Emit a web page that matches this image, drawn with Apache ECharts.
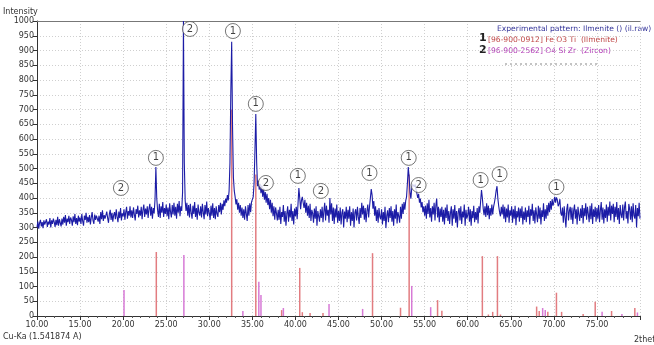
<!DOCTYPE html>
<html><head><meta charset="utf-8">
<script src="https://cdn.jsdelivr.net/npm/echarts@6/dist/echarts.min.js"></script>
<style>html,body{margin:0;padding:0;background:#fff}#c{width:654px;height:345px}</style>
</head><body><div id="c"></div>
<script>
// Experimental pattern, sampled every 0.1 deg from 10.0 to 80.0 (one line per degree)
const expStart = 10.0;
const expStep = 0.1;
const expValues = [
 300,320,296,316,326,304,318,298,324,310,
 306,328,302,320,310,332,300,324,312,330,
 318,302,326,308,336,306,328,316,304,330,
 310,336,316,342,306,330,318,340,312,334,
 326,306,338,318,346,312,332,308,340,320,
 334,312,346,322,306,340,326,350,316,336,
 318,342,310,334,352,324,312,344,326,340,
 346,320,340,312,352,328,358,322,342,330,
 324,354,332,316,346,360,326,350,320,342,
 352,328,362,336,318,354,332,366,324,348,
 338,362,326,352,370,330,356,340,372,334,
 358,332,368,344,324,362,346,374,334,358,
 340,370,328,360,378,336,364,344,372,332,
 364,380,340,370,330,366,348,395,505,400,
 358,336,380,332,372,350,386,336,366,346,
 378,338,368,328,382,352,334,376,344,384,
 340,370,330,380,350,390,338,372,356,420,
 1000,520,392,356,384,340,376,334,380,350,
 330,374,346,386,336,366,326,378,350,340,
 372,334,380,352,328,376,344,388,338,366,
 350,326,374,340,382,332,366,328,372,346,
 336,376,352,384,344,380,360,392,372,398,
 384,410,392,424,520,760,930,640,470,424,
 404,378,396,360,384,350,376,340,368,332,
 362,326,372,346,322,376,340,382,352,386,
 392,404,450,560,685,520,440,458,428,448,
 416,442,404,432,394,420,384,414,376,400,
 362,394,350,384,338,372,326,368,348,324,
 360,326,370,312,352,336,376,320,356,306,
 346,372,320,360,334,380,322,356,310,364,
 338,370,328,380,434,400,362,392,404,384,
 366,394,350,384,340,374,332,380,322,360,
 348,316,364,330,372,306,356,338,320,362,
 332,370,318,356,384,324,374,340,360,316,
 400,344,382,322,368,312,364,334,378,316,
 356,322,368,310,350,362,300,354,330,370,
 318,360,330,372,306,352,322,364,300,350,
 362,324,370,336,312,366,332,384,344,374,
 326,366,318,356,378,334,370,400,430,410,
 364,390,340,372,322,360,316,366,336,328,
 362,310,352,322,370,298,340,358,318,366,
 332,372,320,356,306,362,330,378,314,352,
 338,316,370,330,380,346,386,360,390,404,
 450,505,470,420,398,432,446,452,438,446,
 428,416,400,414,384,398,368,386,352,372,
 340,374,330,382,346,394,334,366,320,372,
 344,384,324,374,398,334,370,318,364,336,
 370,320,360,310,368,332,378,322,356,312,
 350,372,306,362,330,376,316,356,300,352,
 366,324,372,312,354,334,378,306,360,330,
 342,370,320,362,306,356,332,374,318,352,
 326,366,314,372,350,390,427,400,364,342,
 372,336,382,342,374,328,366,340,378,344,
 370,384,402,425,440,398,372,352,338,370,
 344,378,330,370,318,364,334,378,316,358,
 340,372,316,362,330,374,308,356,334,368,
 320,364,332,372,310,354,326,368,318,358,
 336,374,310,362,340,380,322,358,314,368,
 344,318,374,330,368,310,358,336,382,322,
 362,330,376,340,384,352,390,360,396,374,
 386,404,384,402,394,372,380,396,350,340,
 368,316,372,334,300,362,380,324,356,370,
 326,368,312,358,378,330,362,310,370,344,
 322,364,332,376,314,366,338,382,326,370,
 346,318,374,328,382,312,362,336,370,320,
 366,330,376,318,358,386,326,368,314,362,
 332,378,320,370,340,388,324,374,346,380,
 318,370,336,386,326,366,312,376,344,332,
 378,324,368,388,330,356,314,380,362,326,
 372,318,382,340,330,376,300,366,338,384,
 330
];

// Reference pattern 1: [96-900-0912] Fe O3 Ti (Ilmenite)
const ilmPos = [23.85, 32.6, 35.4, 38.4, 40.5, 40.8, 41.7, 43.2, 48.95, 52.2, 53.2, 56.5, 57.0, 61.7, 62.4, 62.9, 63.45, 63.8, 68.0, 68.3, 69.3, 70.3, 70.9, 73.4, 74.8, 76.7, 79.4];
const ilmInt = [217, 700, 480, 20, 163, 13, 10, 10, 213, 28, 480, 54, 18, 203, 5, 14, 203, 5, 32, 17, 14, 79, 14, 7, 48, 17, 27];
// Reference pattern 2: [96-900-2562] O4 Si Zr (Zircon)
const zirPos = [20.1, 27.05, 33.9, 35.75, 36.0, 38.6, 43.9, 47.8, 53.5, 55.7, 68.7, 69.0, 75.6, 77.9, 79.7];
const zirInt = [88, 207, 17, 116, 71, 27, 41, 24, 102, 30, 27, 20, 14, 7, 12];

// Circled peak markers
const markX = [19.74, 23.8, 27.75, 32.74, 35.4, 36.57, 40.28, 42.95, 48.6, 53.15, 54.3, 61.5, 63.7, 70.3];
const markY = [434, 536, 973, 966, 719, 451, 475, 424, 485, 536, 444, 461, 481, 437];
const markNum = ['2','1','2','1','1','2','1','2','1','1','2','1','1','1'];

const yTicks = {min: 0, max: 1000, interval: 50};
const xTicks = {min: 10, max: 80, interval: 5};

const expData = expValues.map((v, i) => [+(expStart + i * expStep).toFixed(2), v]);
const ilmData = ilmPos.map((x, i) => [x, ilmInt[i]]);
const zirData = zirPos.map((x, i) => [x, zirInt[i]]);
const markData = markX.map((x, i) => [x, markY[i], markNum[i]]);

const FONT = 'DejaVu Sans';
const chart = echarts.init(document.getElementById('c'), null, {renderer: 'canvas'});
chart.setOption({
  animation: false,
  backgroundColor: '#fff',
  grid: {left: 37, right: 14, top: 21, bottom: 29},
  xAxis: [{
    type: 'value', min: xTicks.min, max: xTicks.max, interval: xTicks.interval,
    axisLine: {show: true, lineStyle: {color: '#333', width: 1}},
    axisTick: {show: true, length: 4, lineStyle: {color: '#333'}},
    minorTick: {show: true, splitNumber: 5, length: 2, lineStyle: {color: '#555'}},
    axisLabel: {fontFamily: FONT, fontSize: 8, color: '#333', margin: 5, formatter: v => v.toFixed(2),
      showMaxLabel: false},
    splitLine: {show: true, lineStyle: {color: '#cfcfcf', type: [1, 2], width: 1}}
  }, {
    type: 'value', position: 'top', min: xTicks.min, max: xTicks.max,
    axisLine: {show: true, lineStyle: {color: '#777', width: 1}},
    axisTick: {show: false}, axisLabel: {show: false}, splitLine: {show: false}
  }],
  yAxis: {
    type: 'value', min: yTicks.min, max: yTicks.max, interval: yTicks.interval,
    axisLine: {show: true, lineStyle: {color: '#333', width: 1}},
    axisTick: {show: true, length: 4, lineStyle: {color: '#333'}},
    axisLabel: {fontFamily: FONT, fontSize: 8, color: '#333', margin: 3, formatter: v => String(v)},
    splitLine: {show: true, lineStyle: {color: '#cfcfcf', type: [1, 2], width: 1}}
  },
  series: [
    {type: 'bar', name: 'Ilmenite', data: ilmData, barWidth: 1.5, barGap: '-100%',
     itemStyle: {color: '#e27c80'}, z: 2, silent: true},
    {type: 'bar', name: 'Zircon', data: zirData, barWidth: 1.5, barGap: '-100%',
     itemStyle: {color: '#d77ad6'}, z: 2, silent: true},
    {type: 'line', name: 'Experimental', data: expData, showSymbol: false, clip: true,
     lineStyle: {color: '#1c1ca6', width: 1.1}, z: 3, silent: true},
    {type: 'scatter', data: markData, symbol: 'circle', symbolSize: 15, z: 5, silent: true,
     itemStyle: {color: '#ffffff', borderColor: '#555', borderWidth: 1},
     label: {show: true, position: 'inside', formatter: p => p.value[2], fontFamily: FONT,
       fontSize: 10, color: '#111'}}
  ],
  graphic: [
    {type: 'text', left: 3, top: 8, style: {text: 'Intensity', font: '8px "DejaVu Sans"', fill: '#333'}},
    {type: 'text', left: 3, top: 333, style: {text: 'Cu-Ka (1.541874 A)', font: '8px "DejaVu Sans"', fill: '#333'}},
    {type: 'text', left: 634, top: 336, style: {text: '2thet', font: '8px "DejaVu Sans"', fill: '#333'}},
    {type: 'text', left: 497, top: 25, style: {text: 'Experimental pattern: Ilmenite () (il.raw)', font: '7.6px "DejaVu Sans"', fill: '#35359a'}},
    {type: 'text', left: 479, top: 33, style: {text: '1', font: 'bold 11px "DejaVu Sans"', fill: '#222'}},
    {type: 'text', left: 488, top: 36, style: {text: '[96-900-0912] Fe O3 Ti  (Ilmenite)', font: '7.6px "DejaVu Sans"', fill: '#c04848'}},
    {type: 'text', left: 479, top: 45, style: {text: '2', font: 'bold 11px "DejaVu Sans"', fill: '#222'}},
    {type: 'text', left: 488, top: 47, style: {text: '[96-900-2562] O4 Si Zr  (Zircon)', font: '7.6px "DejaVu Sans"', fill: '#b038b4'}},
    {type: 'line', shape: {x1: 505, y1: 64, x2: 600, y2: 64}, style: {stroke: '#888', lineWidth: 1, lineDash: [2, 3]}}
  ]
});
</script>
</body></html>
